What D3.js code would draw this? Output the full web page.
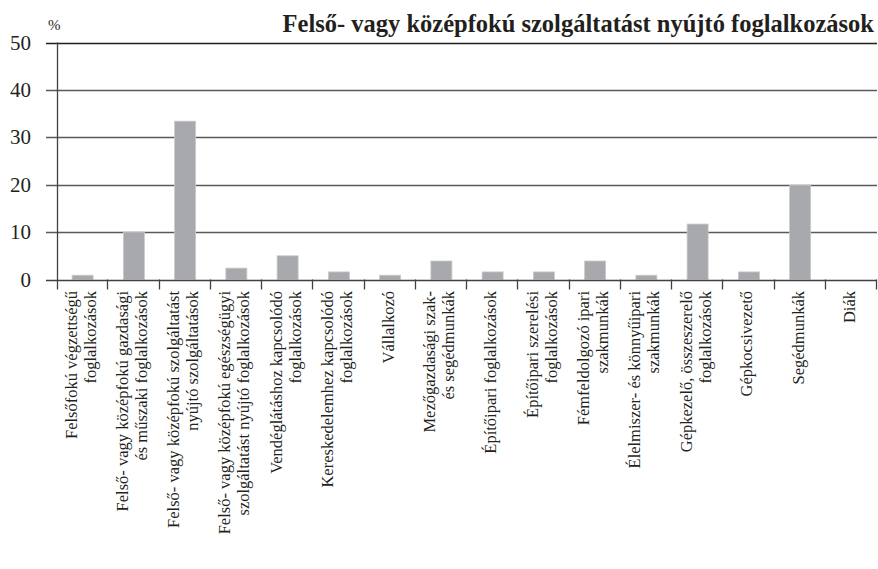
<!DOCTYPE html>
<html>
<head>
<meta charset="utf-8">
<script src="https://cdn.jsdelivr.net/npm/d3@7"></script>
<style>
  body { margin: 0; background: #fff; }
  text { font-family: "Liberation Serif", "Times New Roman", serif; fill: #231f20; }
</style>
</head>
<body>
<svg id="chart" width="878" height="569"></svg>
<script>
// categories (each label split into its printed lines)
const categories = [
  ["Felsőfokú végzettségű", "foglalkozások"],
  ["Felső- vagy középfokú gazdasági", "és műszaki foglalkozások"],
  ["Felső- vagy középfokú szolgáltatást", "nyújtó szolgáltatások"],
  ["Felső- vagy középfokú egészségügyi", "szolgáltatást nyújtó foglalkozások"],
  ["Vendéglátáshoz kapcsolódó", "foglalkozások"],
  ["Kereskedelemhez kapcsolódó", "foglalkozások"],
  ["Vállalkozó"],
  ["Mezőgazdasági szak-", "és segédmunkák"],
  ["Építőipari foglalkozások"],
  ["Építőipari szerelési", "foglalkozások"],
  ["Fémfeldolgozó ipari", "szakmunkák"],
  ["Élelmiszer- és könnyűipari", "szakmunkák"],
  ["Gépkezelő, összeszerelő", "foglalkozások"],
  ["Gépkocsivezető"],
  ["Segédmunkák"],
  ["Diák"]
];
const values = [0.9, 10.0, 33.4, 2.4, 5.0, 1.6, 0.9, 3.9, 1.6, 1.6, 3.9, 0.9, 11.7, 1.6, 19.9, 0];
const yTicks = [0, 10, 20, 30, 40, 50];
const title = "Felső- vagy középfokú szolgáltatást nyújtó foglalkozások";
const unit = "%";

const svg = d3.select("#chart");
const margin = { left: 57, right: 877, top: 42.5, bottom: 279.5 };

const keys = categories.map((d, i) => i);

const xScale = d3.scaleBand()
  .domain(keys)
  .range([margin.left, margin.right])
  .paddingInner(0.59)
  .paddingOuter(0.295);

const yScale = d3.scaleLinear()
  .domain([0, 50])
  .range([margin.bottom, margin.top]);

const step = xScale.step();

// gridlines
svg.append("g")
  .selectAll("line")
  .data(yTicks.filter((d) => d > 0))
  .enter()
  .append("line")
  .attr("x1", 46)
  .attr("x2", margin.right)
  .attr("y1", (d) => Math.round(yScale(d)) + 0.5)
  .attr("y2", (d) => Math.round(yScale(d)) + 0.5)
  .attr("stroke", (d) => (d === 50 ? "#231f20" : "#58595b"))
  .attr("stroke-width", 1.3);

// y tick labels
svg.append("g")
  .selectAll("text")
  .data(yTicks)
  .enter()
  .append("text")
  .attr("x", 31)
  .attr("y", (d) => yScale(d) + 7)
  .attr("text-anchor", "end")
  .attr("font-size", 21)
  .text((d) => d);

// bars
svg.append("g")
  .selectAll("rect")
  .data(values)
  .enter()
  .append("rect")
  .attr("x", (d, i) => xScale(i))
  .attr("y", (d) => yScale(d))
  .attr("width", xScale.bandwidth())
  .attr("height", (d) => yScale(0) - yScale(d))
  .attr("fill", "#a7a9ac")
  .attr("stroke", "#c9cacc")
  .attr("stroke-width", 0.8);

// axes lines
svg.append("line")
  .attr("x1", 46).attr("x2", margin.right)
  .attr("y1", Math.round(margin.bottom) + 0.5).attr("y2", Math.round(margin.bottom) + 0.5)
  .attr("stroke", "#414042").attr("stroke-width", 1.3);

svg.append("line")
  .attr("x1", margin.left + 0.5).attr("x2", margin.left + 0.5)
  .attr("y1", margin.top).attr("y2", margin.bottom + 10)
  .attr("stroke", "#414042").attr("stroke-width", 1.3);

// category ticks
svg.append("g")
  .selectAll("line")
  .data(d3.range(1, keys.length + 1))
  .enter()
  .append("line")
  .attr("x1", (i) => Math.round(margin.left + i * step) - 0.5)
  .attr("x2", (i) => Math.round(margin.left + i * step) - 0.5)
  .attr("y1", margin.bottom)
  .attr("y2", margin.bottom + 10)
  .attr("stroke", "#414042")
  .attr("stroke-width", 1.3);

// category labels, rotated
const labelG = svg.append("g")
  .selectAll("g")
  .data(categories)
  .enter()
  .append("g")
  .attr("transform", (d, i) => `translate(${xScale(i) + xScale.bandwidth() / 2}, 291) rotate(-90)`);

labelG.selectAll("text")
  .data((d) => d.map((t, j) => ({ t, j, n: d.length })))
  .enter()
  .append("text")
  .attr("x", 0)
  .attr("y", (d) => (d.j - (d.n - 1) / 2) * 19 + 3.5)
  .attr("text-anchor", "end")
  .attr("font-size", 16.5)
  .text((d) => d.t);

// unit and title
svg.append("text")
  .attr("x", 48)
  .attr("y", 30)
  .attr("font-size", 15)
  .text(unit);

svg.append("text")
  .attr("x", margin.right - 3)
  .attr("y", 32)
  .attr("text-anchor", "end")
  .attr("font-size", 24.5)
  .attr("font-weight", "bold")
  .text(title);
</script>
</body>
</html>
